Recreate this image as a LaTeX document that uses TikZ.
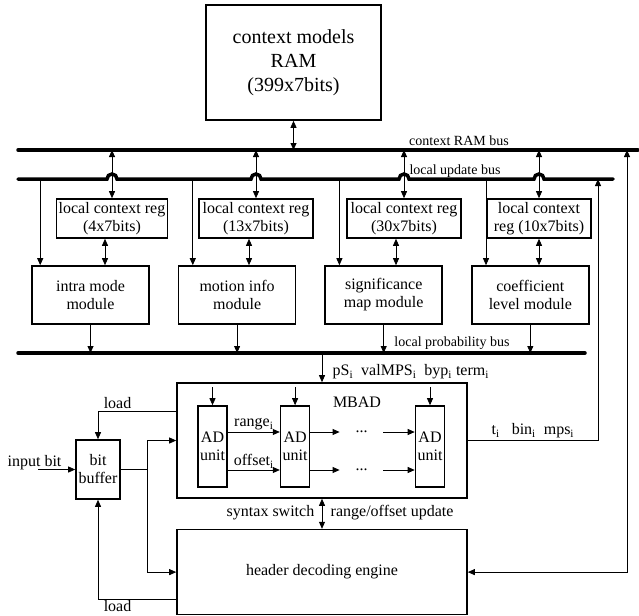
\documentclass[tikz,border=0pt]{standalone}
\usepackage{fontspec}
\setmainfont{Liberation Serif}
\usepackage{tikz}
\usetikzlibrary{positioning,arrows.meta}

\begin{document}
\begin{tikzpicture}[x=1pt, y=-1pt, >={Stealth[length=7pt,width=6pt,inset=0pt]}, line width=0.8pt,
  every node/.style={align=center, font=\fontsize{16}{18}\selectfont},
  blk/.style={draw, line width=1.6pt, inner sep=0pt},
  bus/.style={line width=3.5pt, line cap=round},
  buslbl/.style={font=\fontsize{14}{16}\selectfont}]
  \useasboundingbox (0,0) rectangle (639,615);

  % context memory and the three buses
  \node[blk, minimum width=175pt, minimum height=115pt, font=\fontsize{20}{24}\selectfont] (ram) at (293.5,62.5) {context models\\RAM\\(399x7bits)};
  \coordinate (ctxL) at (18,150);
  \coordinate (ctxR) at (638,150);
  \coordinate (updL) at (18,179);
  \coordinate (updR) at (613,179);
  \coordinate (prbL) at (18,353);
  \coordinate (prbR) at (585,353);

  \node[blk, minimum width=111pt, minimum height=39pt] (lc1) at (112,218.5) {local context reg\\(4x7bits)};
  \node[blk, minimum width=114pt, minimum height=39pt] (lc2) at (256,218.5) {local context reg\\(13x7bits)};
  \node[blk, minimum width=114pt, minimum height=39pt] (lc3) at (404,218.5) {local context reg\\(30x7bits)};
  \node[blk, minimum width=104pt, minimum height=39pt] (lc4) at (539,218.5) {local context\\reg (10x7bits)};

  \node[blk, minimum width=117pt, minimum height=58pt] (intra) at (90.5,295) {intra mode\\module};
  \node[blk, minimum width=117pt, minimum height=58pt, right=28pt of intra] (motion) {motion info\\module};
  \node[blk, minimum width=117pt, minimum height=58pt, right=28pt of motion] (sigmap) {significance\\map module};
  \node[blk, minimum width=117pt, minimum height=58pt, right=28pt of sigmap] (coeff) {coefficient\\level module};

  \draw[bus] (ctxL) -- (ctxR);
  \draw[bus] (updL) -- ([xshift=-5pt]lc1.north |- updL) arc[start angle=180, end angle=0, radius=5pt]
    -- ([xshift=-5pt]lc2.north |- updL) arc[start angle=180, end angle=0, radius=5pt]
    -- ([xshift=-5pt]lc3.north |- updL) arc[start angle=180, end angle=0, radius=5pt]
    -- ([xshift=-5pt]lc4.north |- updL) arc[start angle=180, end angle=0, radius=5pt]
    -- (updR);
  \draw[bus] (prbL) -- (prbR);
  \node[buslbl] (ctxlbl) at (459,141) {context RAM bus};
  \node[buslbl] (updlbl) at (455,171) {local update bus};
  \node[buslbl] (prblbl) at (452,343) {local probability bus};

  \draw[<->] (ram.south) -- (ram.south |- ctxL);
  \draw[<->] (lc1.north |- ctxL) -- (lc1.north);
  \draw[<->] (lc2.north |- ctxL) -- (lc2.north);
  \draw[<->] (lc3.north |- ctxL) -- (lc3.north);
  \draw[<->] (lc4.north |- ctxL) -- (lc4.north);
  \draw[<->] ([xshift=-7pt]lc1.south) -- ([xshift=-7pt]lc1.south |- intra.north);
  \draw[<->] ([xshift=-7pt]lc2.south) -- ([xshift=-7pt]lc2.south |- motion.north);
  \draw[<->] ([xshift=-8pt]lc3.south) -- ([xshift=-8pt]lc3.south |- sigmap.north);
  \draw[<->] (lc4.south) -- (lc4.south |- coeff.north);
  \draw[->] ([xshift=9pt]intra.north west |- updL) -- ([xshift=9pt]intra.north west);
  \draw[->] ([xshift=15pt]motion.north west |- updL) -- ([xshift=15pt]motion.north west);
  \draw[->] ([xshift=15pt]sigmap.north west |- updL) -- ([xshift=15pt]sigmap.north west);
  \draw[->] ([xshift=15pt]coeff.north west |- updL) -- ([xshift=15pt]coeff.north west);
  \draw[->] (intra.south) -- (intra.south |- prbL);
  \draw[->] (motion.south) -- (motion.south |- prbL);
  \draw[->] (sigmap.south) -- (sigmap.south |- prbL);
  \draw[->] (coeff.south) -- (coeff.south |- prbL);

  % MBAD with its AD units
  \node[blk, minimum width=290pt, minimum height=115pt] (mbad) at (322,440.5) {};
  \node (mbadlbl) at (357,402) {MBAD};
  \node[blk, minimum width=29pt, minimum height=81pt] (ad1) at (212.5,446.5) {AD\\unit};
  \node[blk, minimum width=29pt, minimum height=81pt, right=52pt of ad1] (ad2) {AD\\unit};
  \node[blk, minimum width=29pt, minimum height=81pt] (ad3) at (430,446.5) {AD\\unit};
  \node[minimum width=43pt, inner sep=0pt] (dotsA) at (361.5,432) {...};
  \node[minimum width=43pt, inner sep=0pt] (dotsB) at (361.5,470) {...};
  \draw[->] ([yshift=18pt]ad1.north) -- (ad1.north);
  \draw[->] ([yshift=18pt]ad2.north) -- (ad2.north);
  \draw[->] ([yshift=18pt]ad3.north) -- (ad3.north);
  \draw[->] ([yshift=14.5pt]ad1.east) -- node[above, inner sep=1.5pt] (rnglbl) {range\textsubscript{i}} ([yshift=14.5pt]ad2.west);
  \draw[->] ([yshift=-23.5pt]ad1.east) -- node[above, inner sep=1.5pt] (offlbl) {offset\textsubscript{i}} ([yshift=-23.5pt]ad2.west);
  \draw[->] ([yshift=14.5pt]ad2.east) -- (dotsA);
  \draw[->] (dotsA) -- ([yshift=14.5pt]ad3.west);
  \draw[->] ([yshift=-23.5pt]ad2.east) -- (dotsB);
  \draw[->] (dotsB) -- ([yshift=-23.5pt]ad3.west);

  \draw[->] (mbad.north |- prbL) -- (mbad.north);
  \node[anchor=west] (pslbl) at (329,372) {pS\textsubscript{i}\ \ valMPS\textsubscript{i}\ \ byp\textsubscript{i} term\textsubscript{i}};

  \coordinate (updIn) at (598,179);
  \coordinate (ctxIn) at (627,150);
  \draw[->] (mbad.east) -| node[pos=0.25, above, inner sep=2pt] (tlbl) {t\textsubscript{i}\ \ \ bin\textsubscript{i}\ \ mps\textsubscript{i}} (updIn);

  % header decoding engine and bit buffer
  \node[blk, minimum width=290pt, minimum height=85pt, below=30pt of mbad] (hde) {header decoding engine};
  \draw[<->] (hde.east) -| (ctxIn);
  \draw[<->] (mbad.south) -- (hde.north);
  \node[anchor=east] (synlbl) at (318,513) {syntax switch};
  \node[anchor=west] (roulbl) at (327,513) {range/offset update};

  \node[blk, minimum width=44pt, minimum height=59pt] (bbuf) at (98,469.5) {bit\\buffer};
  \node (inlbl) at (34.5,463) {input bit};
  \coordinate (inbit) at (38,469.5);
  \draw[->] (inbit) -- (bbuf.west);
  \draw[->] (bbuf.east) -| ([xshift=-29pt]mbad.west) -- (mbad.west);
  \draw[->] (bbuf.east) -| ([xshift=-29pt]hde.west) -- (hde.west);
  \draw[->] ([yshift=29.5pt]mbad.west) -| node[pos=0.375, above, inner sep=1.5pt] (ldtop) {load} (bbuf.north);
  \draw[->] ([yshift=-27.5pt]hde.west) -| node[pos=0.375, below, inner sep=0.3pt] (ldbot) {load} (bbuf.south);
\end{tikzpicture}
\end{document}
